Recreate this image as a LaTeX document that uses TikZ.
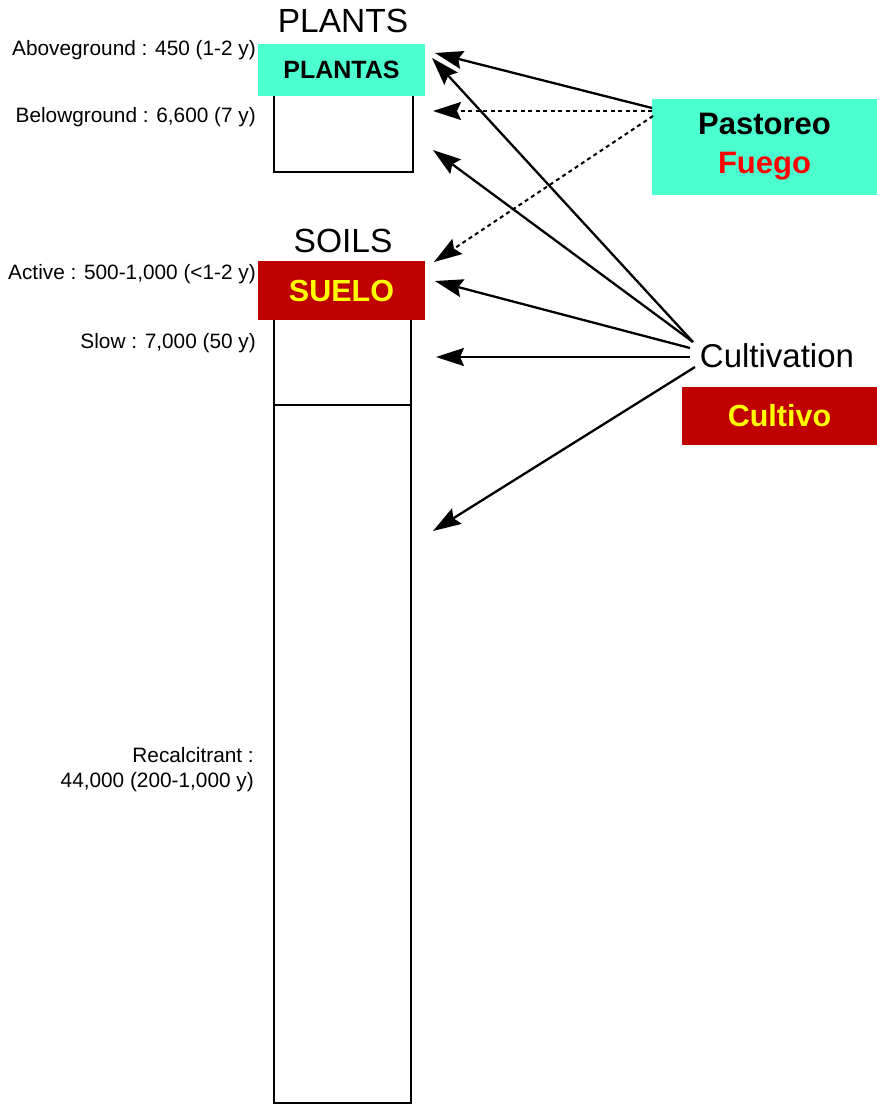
\documentclass[tikz,border=0pt]{standalone}
\usepackage{fontspec}
\setmainfont{Liberation Sans}
\usetikzlibrary{arrows.meta}
\definecolor{aqua}{RGB}{75,255,207}
\definecolor{boxred}{RGB}{192,0,0}
\definecolor{fuegored}{RGB}{255,0,0}
\definecolor{ylw}{RGB}{255,255,0}
\begin{document}
\begin{tikzpicture}[x=1pt,y=-1pt,
  lbl/.style={anchor=east,inner sep=0pt,font=\fontsize{20.8}{25}\selectfont},
  ttl/.style={inner sep=0pt,font=\fontsize{33.5}{38}\selectfont},
  aqbox/.style={fill=aqua,inner sep=0pt,font=\bfseries\fontsize{31}{39}\selectfont},
  rdbox/.style={fill=boxred,text=ylw,inner sep=0pt,font=\bfseries\fontsize{30.5}{36}\selectfont},
  pool/.style={draw,line width=2.8pt},
  arr/.style={line width=2.3pt,-{Stealth[length=28pt,width=18pt,inset=4pt]}},
  darr/.style={line width=2pt,dash pattern=on 4pt off 3.5pt,-{Stealth[length=28pt,width=18pt,inset=4pt]}}]
\useasboundingbox[fill=white] (0,0) rectangle (877,1105);

% pools
\draw[pool] (274,60) rectangle (413,172);
\draw[pool] (274,285) rectangle (411,1103);
\draw[pool] (274,405) -- (411,405);

% titles
\node[ttl] (plants) at (343,21) {PLANTS};
\node[ttl] (soils) at (343,241) {SOILS};

% left labels
\node[lbl] (above) at (256,50) {Aboveground : 450 (1-2 y)};
\node[lbl] (below) at (256,117) {Belowground : 6,600 (7 y)};
\node[lbl] (active) at (256,274) {Active : 500-1,000 (<1-2 y)};
\node[lbl] (slow) at (256,343) {Slow : 7,000 (50 y)};
\node[lbl,align=right] (recal) at (254,770) {Recalcitrant :\\44,000 (200-1,000 y)};

% overlay labels
\node[aqbox,font=\bfseries\fontsize{25}{30}\selectfont,minimum width=167pt,minimum height=52pt] (plantas) at (341.5,70) {PLANTAS};
\node[rdbox,minimum width=167pt,minimum height=59pt] (suelo) at (341.5,290.5) {SUELO};
\node[aqbox,minimum width=225pt,minimum height=96pt,align=center] (past) at (764.5,147) {Pastoreo\\\textcolor{fuegored}{Fuego}};
\node[inner sep=0pt,font=\fontsize{33}{38}\selectfont] (cult) at (777,356) {Cultivation};
\node[rdbox,minimum width=195pt,minimum height=58pt] (cultivo) at (779.5,416) {Cultivo};

% connector end points
\coordinate (p1) at (652,108);
\coordinate (p2) at (652,111);
\coordinate (p3) at (653,116);
\coordinate (c1) at (693,342);
\coordinate (c2) at (690,348);
\coordinate (c3) at (690,357);
\coordinate (c4) at (695,367);
\coordinate (t1) at (435,53);
\coordinate (t2) at (433,111);
\coordinate (t3) at (434,262);
\coordinate (t4) at (432,58);
\coordinate (t5) at (433,150);
\coordinate (t6) at (435,281);
\coordinate (t7) at (436,357);
\coordinate (t8) at (433,531);

% arrows
\draw[arr] (p1) -- (t1);
\draw[darr] (p2) -- (t2);
\draw[darr] (p3) -- (t3);
\draw[arr] (c1) -- (t4);
\draw[arr] (c1) -- (t5);
\draw[arr] (c2) -- (t6);
\draw[arr] (c3) -- (t7);
\draw[arr] (c4) -- (t8);
\end{tikzpicture}
\end{document}
